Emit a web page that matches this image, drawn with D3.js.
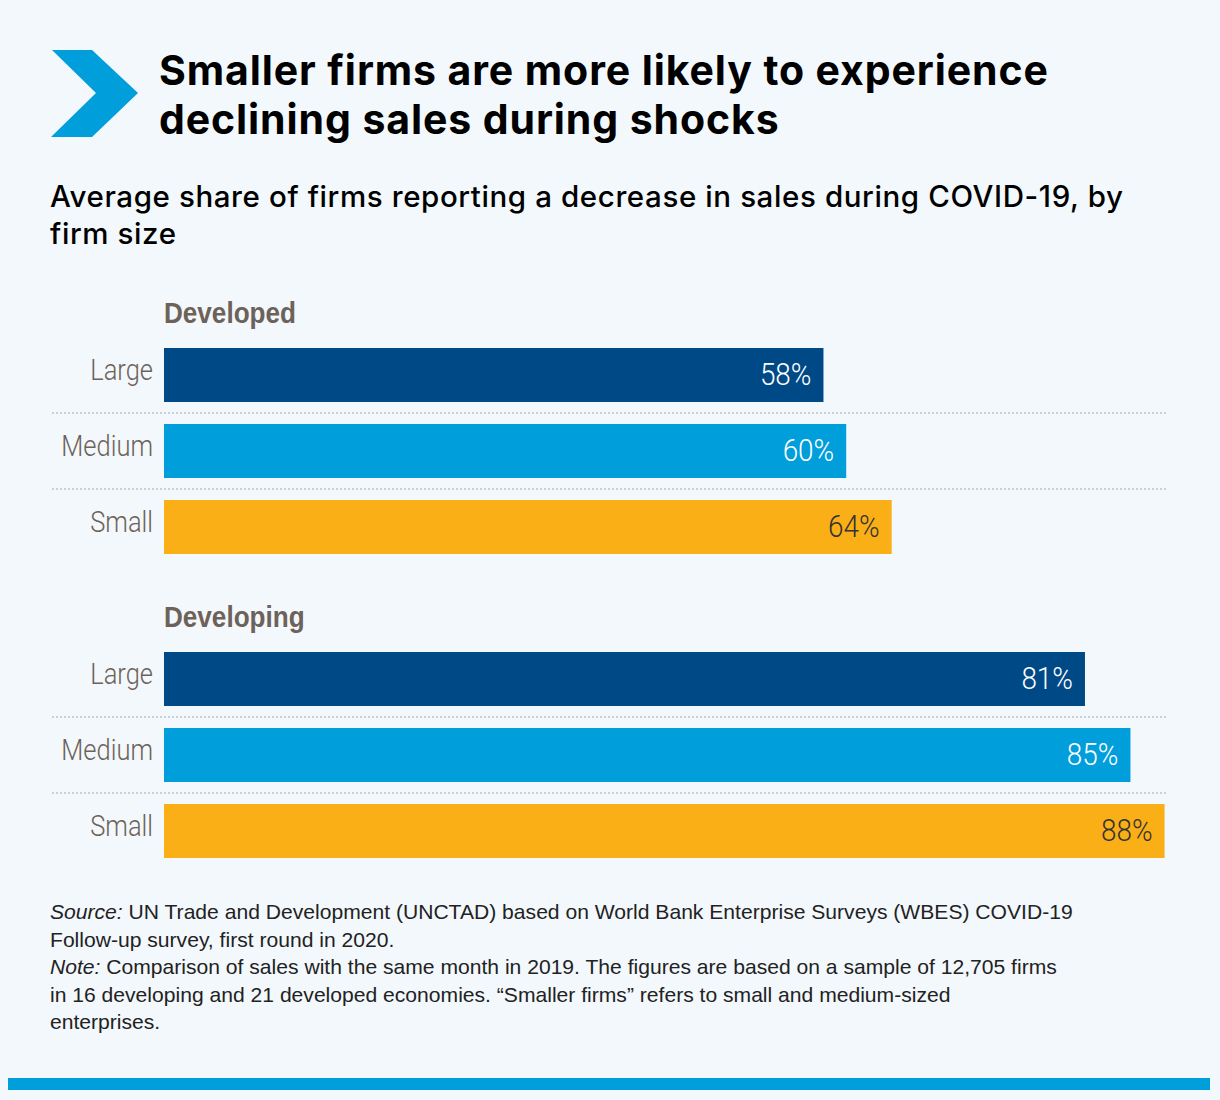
<!DOCTYPE html>
<html><head><meta charset="utf-8">
<script src="https://cdn.jsdelivr.net/npm/d3@7"></script>
<style>
html,body{margin:0;padding:0;background:#f3f8fc;}
svg{display:block;}
</style></head>
<body>
<svg id="chart" width="1220" height="1100"></svg>
<script>
const groups = ["Developed", "Developing"];
const sizes = ["Large", "Medium", "Small"];
const developedValues = [58, 60, 64];
const developingValues = [81, 85, 88];
const sizeColors = ["#004987", "#009edb", "#fbaf17"];
const labelColors = ["#ffffff", "#ffffff", "#333333"];

const titleLines = ["Smaller firms are more likely to experience", "declining sales during shocks"];
const subtitleLines = ["Average share of firms reporting a decrease in sales during COVID-19, by", "firm size"];
const notes = [
  [["Source:", true], [" UN Trade and Development (UNCTAD) based on World Bank Enterprise Surveys (WBES) COVID-19", false]],
  [["Follow-up survey, first round in 2020.", false]],
  [["Note:", true], [" Comparison of sales with the same month in 2019. The figures are based on a sample of 12,705 firms", false]],
  [["in 16 developing and 21 developed economies. \u201CSmaller firms\u201D refers to small and medium-sized", false]],
  [["enterprises.", false]]
];

const svg = d3.select("#chart");
const W = 1220, H = 1100;
svg.append("rect").attr("width", W).attr("height", H).attr("fill", "#f3f8fc");

// chevron
svg.append("path")
  .attr("d", "M52,50 L92,50 L138,93 L92,137 L51,137 L96,93 Z")
  .attr("fill", "#009edb");

const sans = "'Liberation Sans', Arial, Helvetica, sans-serif";
const inter = "Inter, 'Liberation Sans', Arial, sans-serif";
const light = "Roboto, 'Liberation Sans', Arial, sans-serif";

svg.append("text").attr("x", 159).attr("y", 85)
  .attr("font-family", inter).attr("font-weight", "bold").attr("font-size", 41)
  .attr("letter-spacing", 0.9).attr("fill", "#000")
  .selectAll("tspan").data(titleLines).join("tspan")
  .attr("x", 159).attr("dy", (d, i) => i === 0 ? 0 : 49).text(d => d);

svg.append("text").attr("x", 50).attr("y", 207)
  .attr("font-family", inter).attr("font-weight", 500).attr("font-size", 29.5)
  .attr("letter-spacing", 0.6).attr("fill", "#000")
  .selectAll("tspan").data(subtitleLines).join("tspan")
  .attr("x", 50).attr("dy", (d, i) => i === 0 ? 0 : 37).text(d => d);

const x = d3.scaleLinear().domain([0, 100]).range([164, 164 + 1137]);
const groupTop = [348, 652];
const step = 76;
const gap = 22;

const groupData = [developedValues, developingValues];

groups.forEach((g, gi) => {
  const top = groupTop[gi];
  const y = d3.scaleBand().domain(sizes)
    .range([top, top + step * sizes.length - gap])
    .paddingInner(gap / step).paddingOuter(0);

  svg.append("g").attr("transform", `translate(164,${top - 25}) scale(0.87,1)`)
    .append("text")
    .attr("font-family", sans).attr("font-weight", "bold").attr("font-size", 30)
    .attr("fill", "#6d6259").text(g);

  // separators
  [1, 2].forEach(k => {
    const yy = y(sizes[k]) - (y.step() - y.bandwidth()) / 2;
    svg.append("line").attr("x1", 52).attr("x2", 1168).attr("y1", yy).attr("y2", yy)
      .attr("stroke", "#cdd1d5").attr("stroke-width", 2).attr("stroke-dasharray", "2,2");
  });

  const vals = groupData[gi];
  const rows = sizes.map((s, i) => ({ s, v: vals[i], i }));
  const gg = svg.append("g");
  gg.selectAll("rect").data(rows).join("rect")
    .attr("x", x(0)).attr("y", d => y(d.s))
    .attr("width", d => x(d.v) - x(0)).attr("height", y.bandwidth())
    .attr("fill", d => sizeColors[d.i]);
  gg.selectAll("g.val").data(rows).join("g").attr("class", "val")
    .attr("transform", d => `translate(${x(d.v) - 12},${y(d.s) + y.bandwidth() / 2 + 10}) scale(0.9,1)`)
    .append("text")
    .attr("text-anchor", "end").attr("font-family", light).attr("font-weight", 300).attr("font-size", 31)
    .attr("fill", d => labelColors[d.i]).text(d => d.v + "%");
  gg.selectAll("g.cat").data(rows).join("g").attr("class", "cat")
    .attr("transform", d => `translate(153,${y(d.s) + y.bandwidth() / 2 + 5}) scale(0.85,1)`)
    .append("text")
    .attr("text-anchor", "end").attr("font-family", light).attr("font-weight", 300).attr("font-size", 30)
    .attr("fill", "#6d6259").text(d => d.s);
});

// notes
const nt = svg.append("g");
notes.forEach((line, li) => {
  const t = nt.append("text").attr("x", 50).attr("y", 919 + li * 27.5)
    .attr("font-family", sans).attr("font-size", 21.1).attr("fill", "#222");
  line.forEach(([txt, it]) => {
    t.append("tspan").attr("font-style", it ? "italic" : "normal").text(txt);
  });
});

svg.append("rect").attr("x", 8).attr("y", 1078).attr("width", 1202).attr("height", 12).attr("fill", "#009edb");
</script>
</body></html>
